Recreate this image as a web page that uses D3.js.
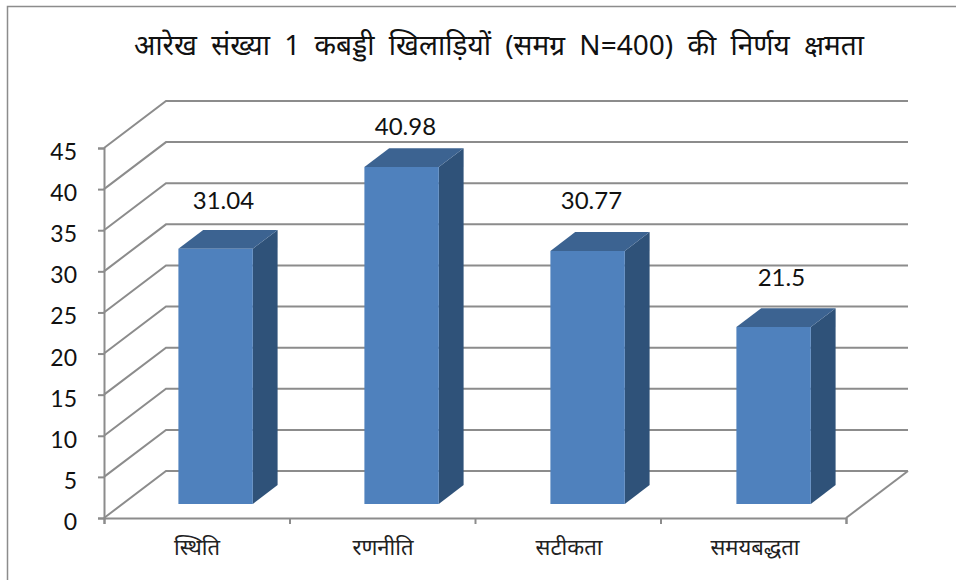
<!DOCTYPE html>
<html>
<head>
    <meta charset="utf-8">
    <style>
        html, body { margin: 0; padding: 0; background: #fff; }
        svg { display: block; }
    </style>
    <script src="https://d3js.org/d3.v7.min.js"></script>
</head>
<body>
<script>
  var categories = ["स्थिति", "रणनीति", "सटीकता", "समयबद्धता"];
  var values = [31.04, 40.98, 30.77, 21.5];
  var valueLabels = ["31.04", "40.98", "30.77", "21.5"];
  var yTicks = [0, 5, 10, 15, 20, 25, 30, 35, 40, 45];
  var title = "आरेख संख्या 1 कबड्डी खिलाड़ियों (समग्र N=400) की निर्णय क्षमता";

  var width = 956, height = 580;
  var grey = "#8c8c8c";
  var latin = "Lato, 'Open Sans', 'Noto Sans', sans-serif";
  var hindi = "'Noto Sans', 'Liberation Sans', sans-serif";

  // plot box of the front face, back wall is shifted by depth
  var plotLeft = 104, plotRight = 846, plotBottom = 518, plotTop = 148;
  var depthX = 62, depthY = 47;

  var x = d3.scaleBand().domain(categories).range([plotLeft, plotRight + 2])
            .paddingInner(0.6).paddingOuter(0.3);
  var y = d3.scaleLinear().domain([0, 45]).range([plotBottom, plotTop]);
  var xEdges = d3.scalePoint().domain(d3.range(categories.length + 1)).range([plotLeft, plotRight]);

  var svg = d3.select("body").append("svg")
              .attr("width", width)
              .attr("height", height);

  // outer chart frame
  svg.append("path")
     .attr("d", "M7.5,580V6.5H956")
     .attr("fill", "none")
     .attr("stroke", grey)
     .attr("stroke-width", 1.5);

  svg.append("text")
     .attr("x", 499)
     .attr("y", 55)
     .attr("text-anchor", "middle")
     .attr("font-family", hindi)
     .attr("font-size", 28)
     .attr("word-spacing", 7)
     .attr("fill", "#111")
     .text(title);

  // gridlines: along the side wall, then along the back wall
  svg.append("g").selectAll("path")
     .data(yTicks)
     .enter()
     .append("path")
     .attr("fill", "none")
     .attr("stroke", grey)
     .attr("stroke-width", 2)
     .attr("d", function (d) {
       var line = d3.path();
       line.moveTo(plotLeft, y(d));
       line.lineTo(plotLeft + depthX, y(d) - depthY);
       line.lineTo(plotRight + depthX, y(d) - depthY);
       return line.toString();
     });

  // floor, right edge
  svg.append("line")
     .attr("x1", plotRight).attr("y1", plotBottom)
     .attr("x2", plotRight + depthX).attr("y2", plotBottom - depthY)
     .attr("stroke", grey)
     .attr("stroke-width", 2);

  var yAxis = d3.axisLeft(y).tickValues(yTicks).tickSize(6).tickPadding(21);
  var yG = svg.append("g")
     .attr("transform", "translate(" + plotLeft + ",0)")
     .call(yAxis);
  yG.selectAll("text")
     .attr("font-family", latin)
     .attr("font-size", 23)
     .attr("dy", "0.5em")
     .attr("fill", "#111");

  var xAxis = d3.axisBottom(xEdges).tickSize(6).tickFormat("");
  var xG = svg.append("g")
     .attr("transform", "translate(0," + plotBottom + ")")
     .call(xAxis);

  svg.selectAll(".domain, .tick line")
     .attr("stroke", grey)
     .attr("stroke-width", 2);

  // bars stand between 30% and 70% of the depth
  var d0 = 0.3, d1 = 0.7;
  function pt(px, v, depth) {
    return (px + depth * depthX) + "," + (y(v) - depth * depthY);
  }

  var bars = svg.append("g").selectAll("g")
     .data(values)
     .enter()
     .append("g");

  bars.append("polygon")
     .attr("fill", "#2f5279")
     .attr("points", function (d, i) {
       var xr = x(categories[i]) + x.bandwidth();
       return [pt(xr, 0, d0), pt(xr, 0, d1), pt(xr, d, d1), pt(xr, d, d0)].join(" ");
     });

  bars.append("polygon")
     .attr("fill", "#3c6391")
     .attr("points", function (d, i) {
       var xl = x(categories[i]), xr = xl + x.bandwidth();
       return [pt(xl, d, d0), pt(xl, d, d1), pt(xr, d, d1), pt(xr, d, d0)].join(" ");
     });

  bars.append("polygon")
     .attr("fill", "#4f81bd")
     .attr("points", function (d, i) {
       var xl = x(categories[i]), xr = xl + x.bandwidth();
       return [pt(xl, 0, d0), pt(xr, 0, d0), pt(xr, d, d0), pt(xl, d, d0)].join(" ");
     });

  // labels sit a bit unevenly in the original, so nudge each one
  var labelDx = [45, 41, 41, 45];
  var labelGap = [40, 32, 42, 41];

  bars.append("text")
     .attr("x", function (d, i) { return x(categories[i]) + d0 * depthX + labelDx[i]; })
     .attr("y", function (d, i) { return y(d) - d0 * depthY - labelGap[i]; })
     .attr("text-anchor", "middle")
     .attr("font-family", latin)
     .attr("font-size", 24)
     .attr("fill", "#111")
     .text(function (d, i) { return valueLabels[i]; });

  svg.append("g").selectAll("text")
     .data(categories)
     .enter()
     .append("text")
     .attr("x", function (d) { return x(d) + x.bandwidth() / 2; })
     .attr("y", 555)
     .attr("text-anchor", "middle")
     .attr("font-family", hindi)
     .attr("font-size", 22)
     .attr("fill", "#222")
     .text(function (d) { return d; });
</script>
</body>
</html>
